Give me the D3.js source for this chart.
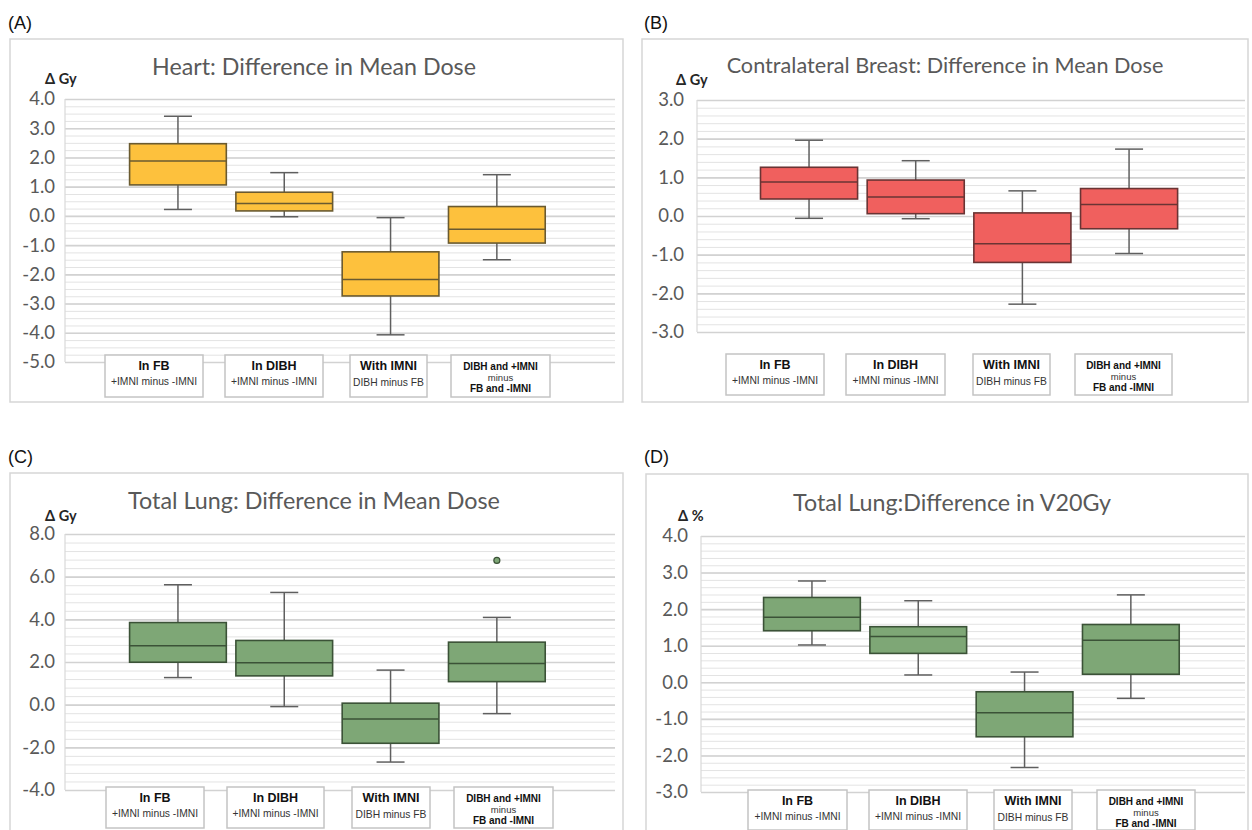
<!DOCTYPE html>
<html><head><meta charset="utf-8">
<script src="https://cdn.jsdelivr.net/npm/d3@7"></script>
<style>
html,body{margin:0;padding:0;background:#fff;}
svg{display:block;}
</style></head>
<body>
<svg id="chart" width="1252" height="830"></svg>
<script>
// ---------------- DATA ----------------
const categories = ["In FB", "In DIBH", "With IMNI", "DIBH and +IMNI minus FB and -IMNI"];
const categoryLabelLines = [
  [["In FB", "b"], ["+IMNI minus -IMNI", "r"]],
  [["In DIBH", "b"], ["+IMNI minus -IMNI", "r"]],
  [["With IMNI", "b"], ["DIBH minus FB", "r"]],
  [["DIBH and +IMNI", "s"], ["minus", "m"], ["FB and -IMNI", "s"]]
];
const panelLetters = ["(A)", "(B)", "(C)", "(D)"];
const panelTitles = ["Heart: Difference in Mean Dose", "Contralateral Breast: Difference in Mean Dose",
                     "Total Lung: Difference in Mean Dose", "Total Lung:Difference in V20Gy"];
const unitLabels = ["\u0394  Gy", "\u0394 Gy", "\u0394 Gy", "\u0394 %"];

// [whisker low, Q1, median, Q3, whisker high] per category
const heartStats  = [[0.22, 1.06, 1.88, 2.47, 3.41], [-0.03, 0.17, 0.42, 0.81, 1.48],
                     [-4.07, -2.74, -2.18, -1.23, -0.06], [-1.50, -0.93, -0.46, 0.32, 1.41]];
const breastStats = [[-0.06, 0.44, 0.88, 1.26, 1.96], [-0.07, 0.06, 0.49, 0.93, 1.43],
                     [-2.28, -1.20, -0.72, 0.08, 0.65], [-0.97, -0.33, 0.30, 0.71, 1.73]];
const lungMeanStats = [[1.27, 1.99, 2.76, 3.85, 5.62], [-0.09, 1.35, 1.96, 3.01, 5.26],
                       [-2.69, -1.81, -0.67, 0.07, 1.62], [-0.42, 1.08, 1.93, 2.93, 4.09]];
const lungV20Stats = [[1.02, 1.41, 1.78, 2.32, 2.77], [0.20, 0.79, 1.25, 1.52, 2.23],
                      [-2.33, -1.49, -0.83, -0.26, 0.28], [-0.44, 0.22, 1.15, 1.58, 2.39]];
const lungMeanOutliers = [[3, 6.76]]; // [category index, value]

const heartTicks  = [4, 3, 2, 1, 0, -1, -2, -3, -4, -5];
const breastTicks = [3, 2, 1, 0, -1, -2, -3];
const lungMeanTicks = [8, 6, 4, 2, 0, -2, -4];
const lungV20Ticks = [4, 3, 2, 1, 0, -1, -2, -3];

// ---------------- LAYOUT ----------------
const panels = [
  { letter:[8,29], frame:[10,39,613,363], plot:[65,99,615,362], titleC:[314,66], titleW:324, unitXY:[45,84],
    tickRight:55, domain:[-5,4], minor:0.25, band:[124.8,550], stats:heartStats, ticks:heartTicks, outliers:[],
    fill:"#FDC13D", stroke:"#6a5a30", labels:[[105,98],[225,98],[350,77],[451,99]], labelY:[355,42] },
  { letter:[644,29], frame:[642,39,606,363], plot:[697,100,1245,332], titleC:[945,65], titleW:437, unitXY:[676,85],
    tickRight:684, domain:[-3,3], minor:0.2, band:[755.7,1182.4], stats:breastStats, ticks:breastTicks, outliers:[],
    fill:"#F0605E", stroke:"#6a3434", labels:[[726,98],[846,99],[973,77],[1075,97]], labelY:[354,41] },
  { letter:[8,463], frame:[10,473,613,380], plot:[65,534,615,790], titleC:[314,500], titleW:372, unitXY:[45,521],
    tickRight:55, domain:[-4,8], minor:0.4, band:[124.8,550], stats:lungMeanStats, ticks:lungMeanTicks, outliers:lungMeanOutliers,
    fill:"#7EA776", stroke:"#3b5237", labels:[[106,98],[227,97],[352,78],[454,99]], labelY:[787,41] },
  { letter:[644,463], frame:[646,474,602,380], plot:[701,536,1245,792], titleC:[952,502], titleW:318, unitXY:[678,521],
    tickRight:688, domain:[-3,4], minor:0.2, band:[758.8,1184], stats:lungV20Stats, ticks:lungV20Ticks, outliers:[],
    fill:"#7EA776", stroke:"#3b5237", labels:[[748,99],[869,98],[994,78],[1097,98]], labelY:[790,40] }
];

const fmt = d3.formatLocale({decimal:".", thousands:",", grouping:[3], currency:["",""], minus:"-"}).format(".1f");
const svg = d3.select("#chart");
const labelFont = "'Liberation Sans', Arial, sans-serif";
const calFont = "Lato, 'Open Sans', sans-serif";

panels.forEach((p, pi) => {
  const g = svg.append("g");
  // panel letter
  g.append("text").attr("x", p.letter[0]).attr("y", p.letter[1])
    .attr("font-family", labelFont).attr("font-size", 18).attr("fill", "#111").text(panelLetters[pi]);
  // frame
  g.append("rect").attr("x", p.frame[0]).attr("y", p.frame[1]).attr("width", p.frame[2]).attr("height", p.frame[3])
    .attr("fill", "#fff").attr("stroke", "#d6d6d6").attr("stroke-width", 1.5);

  const [x0, y0, x1, y1] = p.plot;
  const y = d3.scaleLinear().domain(p.domain).range([y1, y0]);
  const x = d3.scaleBand().domain(categories).range(p.band).paddingInner(0.09).paddingOuter(0.045);

  // minor gridlines
  const minorVals = d3.range(Math.round((p.domain[1]-p.domain[0])/p.minor)+1).map(i => +(p.domain[0] + i*p.minor).toFixed(4));
  g.append("g").attr("transform", `translate(${x0},0)`)
    .call(d3.axisLeft(y).tickValues(minorVals).tickSize(-(x1-x0)).tickFormat(""))
    .call(a => a.select(".domain").remove())
    .call(a => a.selectAll("line").attr("stroke", "#e3e3e3").attr("stroke-width", 1));
  // major gridlines
  g.append("g").attr("transform", `translate(${x0},0)`)
    .call(d3.axisLeft(y).tickValues(p.ticks).tickSize(-(x1-x0)).tickFormat(""))
    .call(a => a.select(".domain").remove())
    .call(a => a.selectAll("line").attr("stroke", "#d2d2d2").attr("stroke-width", 1.6));
  // plot area border (left)
  g.append("line").attr("x1", x0).attr("x2", x0).attr("y1", y0).attr("y2", y1)
    .attr("stroke", "#d9d9d9").attr("stroke-width", 1.2);

  // tick labels
  g.append("g").attr("transform", `translate(${p.tickRight},0)`)
    .call(d3.axisLeft(y).tickValues(p.ticks).tickSize(0).tickPadding(0).tickFormat(fmt))
    .call(a => a.select(".domain").remove())
    .call(a => a.selectAll("text").attr("font-family", calFont).attr("font-size", 18.5).attr("fill", "#595959"));

  // title
  const t = g.append("text").attr("x", p.titleC[0]).attr("y", p.titleC[1]).attr("text-anchor", "middle")
    .attr("dominant-baseline", "central").attr("font-family", calFont).attr("font-size", 21)
    .attr("fill", "#595959").text(panelTitles[pi]);
  const w = t.node().getComputedTextLength();
  if (w > 0) t.attr("font-size", 21 * p.titleW / w);

  // unit label
  g.append("text").attr("x", p.unitXY[0]).attr("y", p.unitXY[1]).attr("font-family", calFont)
    .attr("font-size", 14.5).attr("font-weight", 700).attr("fill", "#262626").text(unitLabels[pi]);

  // boxes
  const bw = x.bandwidth();
  const capW = 28;
  const boxes = g.append("g").selectAll("g").data(p.stats).join("g")
    .attr("transform", (d, i) => `translate(${x(categories[i])},0)`);
  // whiskers
  boxes.append("line").attr("x1", bw/2).attr("x2", bw/2).attr("y1", d => y(d[0])).attr("y2", d => y(d[1]))
    .attr("stroke", "#5f5f5f").attr("stroke-width", 1.5);
  boxes.append("line").attr("x1", bw/2).attr("x2", bw/2).attr("y1", d => y(d[3])).attr("y2", d => y(d[4]))
    .attr("stroke", "#5f5f5f").attr("stroke-width", 1.5);
  boxes.append("line").attr("x1", bw/2 - capW/2).attr("x2", bw/2 + capW/2).attr("y1", d => y(d[0])).attr("y2", d => y(d[0]))
    .attr("stroke", "#5f5f5f").attr("stroke-width", 1.5);
  boxes.append("line").attr("x1", bw/2 - capW/2).attr("x2", bw/2 + capW/2).attr("y1", d => y(d[4])).attr("y2", d => y(d[4]))
    .attr("stroke", "#5f5f5f").attr("stroke-width", 1.5);
  // box
  boxes.append("rect").attr("x", 0).attr("width", bw).attr("y", d => y(d[3])).attr("height", d => y(d[1]) - y(d[3]))
    .attr("fill", p.fill).attr("stroke", p.stroke).attr("stroke-width", 1.6);
  // median
  boxes.append("line").attr("x1", 0).attr("x2", bw).attr("y1", d => y(d[2])).attr("y2", d => y(d[2]))
    .attr("stroke", p.stroke).attr("stroke-width", 1.5);

  // outliers
  g.append("g").selectAll("circle").data(p.outliers).join("circle")
    .attr("cx", d => x(categories[d[0]]) + bw/2).attr("cy", d => y(d[1])).attr("r", 3)
    .attr("fill", p.fill).attr("stroke", p.stroke).attr("stroke-width", 1.2);

  // category label boxes
  const lb = g.append("g").selectAll("g").data(categories).join("g")
    .attr("transform", (d, i) => `translate(${p.labels[i][0]},${p.labelY[0]})`);
  lb.append("rect").attr("width", (d, i) => p.labels[i][1]).attr("height", p.labelY[1])
    .attr("fill", "#fff").attr("stroke", "#c4c4c4").attr("stroke-width", 1.5);
  lb.each(function(d, i) {
    const lines = categoryLabelLines[i];
    const cx = p.labels[i][1] / 2;
    const sel = d3.select(this);
    const offs = lines.length === 3 ? [15, 25.5, 37] : (i === 2 ? [15, 31] : [15, 30]);
    lines.forEach((ln, k) => {
      const style = ln[1];
      sel.append("text").attr("x", cx).attr("y", offs[k]).attr("text-anchor", "middle")
        .attr("font-family", labelFont)
        .attr("font-size", style === "b" ? 12.5 : style === "s" ? 10 : style === "m" ? 9.5 : 10.3)
        .attr("font-weight", (style === "b" || style === "s") ? 700 : 400)
        .attr("fill", (style === "b" || style === "s") ? "#111" : "#333")
        .text(ln[0]);
    });
  });
});
</script>
</body></html>
